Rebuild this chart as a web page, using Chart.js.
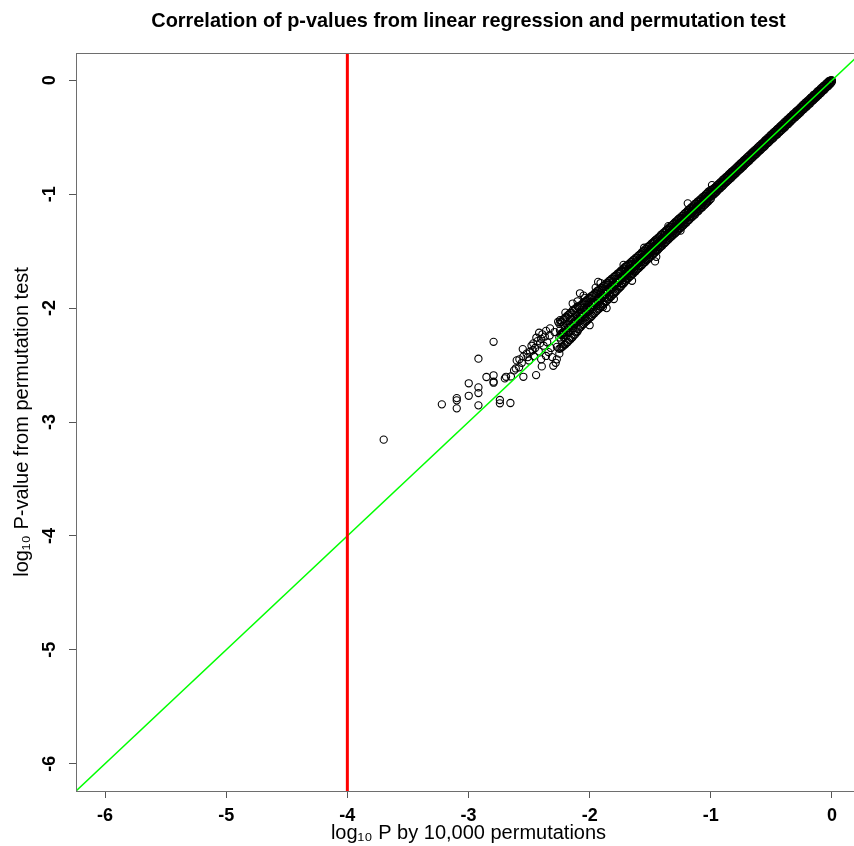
<!DOCTYPE html>
<html lang="en">

<head>
    <meta charset="UTF-8">
    <title>Correlation of p-values</title>
    <script src="https://cdn.jsdelivr.net/npm/chart.js"></script>
    <style>
        html, body { margin: 0; padding: 0; background: #fff; overflow: hidden; }
        #wrap { width: 936px; height: 846px; }
    </style>
</head>

<body>
    <!-- plot region runs past the window edge, the right side is cut like in the picture -->
    <div id="wrap"><canvas id="myChart" width="936" height="846"></canvas></div>

<script>
    // axis ranges and ticks (log10 scale on both axes)
    const xLimits = [-6.24, 0.24];
    const yLimits = [-6.24, 0.24];
    const xTicks = [-6, -5, -4, -3, -2, -1, 0];
    const yTicks = [-6, -5, -4, -3, -2, -1, 0];

    // y = x reference line and the -4 cutoff
    const diagonal = [[-7, -7], [1, 1]];
    const cutoff = [[-4, -7], [-4, 1]];

    // dense band of tests, [log10 P permutations, log10 P regression]
    const bandPoints = [
        [0,0],[0,-0.012],[-0.01,-0.001],[-0.01,-0.028],[-0.02,-0.004],[-0.02,-0.035],[-0.03,-0.012],[-0.03,-0.051],
        [-0.04,-0.022],[-0.04,-0.058],[-0.05,-0.031],[-0.05,-0.066],[-0.06,-0.047],[-0.06,-0.081],[-0.07,-0.049],[-0.07,-0.088],
        [-0.08,-0.064],[-0.08,-0.097],[-0.09,-0.068],[-0.09,-0.111],[-0.10,-0.082],[-0.10,-0.117],[-0.11,-0.093],[-0.11,-0.131],
        [-0.12,-0.098],[-0.12,-0.136],[-0.13,-0.114],[-0.13,-0.152],[-0.14,-0.121],[-0.14,-0.157],[-0.15,-0.127],[-0.15,-0.171],
        [-0.16,-0.143],[-0.16,-0.179],[-0.17,-0.149],[-0.17,-0.186],[-0.18,-0.158],[-0.18,-0.203],[-0.19,-0.172],[-0.19,-0.209],
        [-0.20,-0.178],[-0.20,-0.221],[-0.21,-0.191],[-0.21,-0.233],[-0.22,-0.197],[-0.22,-0.238],[-0.23,-0.213],[-0.23,-0.252],
        [-0.24,-0.216],[-0.24,-0.259],[-0.25,-0.231],[-0.25,-0.268],[-0.26,-0.237],[-0.26,-0.284],[-0.27,-0.252],[-0.27,-0.289],
        [-0.28,-0.259],[-0.28,-0.303],[-0.29,-0.268],[-0.29,-0.307],[-0.30,-0.277],[-0.30,-0.322],[-0.31,-0.292],[-0.31,-0.328],
        [-0.32,-0.296],[-0.32,-0.341],[-0.33,-0.311],[-0.33,-0.349],[-0.34,-0.318],[-0.34,-0.362],[-0.35,-0.327],[-0.35,-0.368],
        [-0.36,-0.341],[-0.36,-0.383],[-0.37,-0.346],[-0.37,-0.389],[-0.38,-0.362],[-0.38,-0.401],[-0.39,-0.366],[-0.39,-0.414],
        [-0.40,-0.381],[-0.40,-0.418],[-0.41,-0.387],[-0.41,-0.433],[-0.42,-0.399],[-0.42,-0.442],[-0.43,-0.406],[-0.43,-0.451],
        [-0.44,-0.421],[-0.44,-0.459],[-0.45,-0.426],[-0.45,-0.473],[-0.46,-0.438],[-0.46,-0.481],[-0.47,-0.451],[-0.47,-0.488],
        [-0.48,-0.455],[-0.48,-0.503],[-0.49,-0.469],[-0.49,-0.512],[-0.50,-0.476],[-0.50,-0.521],[-0.51,-0.487],[-0.51,-0.529],
        [-0.52,-0.502],[-0.52,-0.543],[-0.53,-0.505],[-0.53,-0.551],[-0.54,-0.521],[-0.54,-0.558],[-0.55,-0.526],[-0.55,-0.573],
        [-0.56,-0.538],[-0.56,-0.584],[-0.57,-0.551],[-0.57,-0.589],[-0.58,-0.556],[-0.58,-0.602],[-0.59,-0.571],[-0.59,-0.613],
        [-0.60,-0.575],[-0.60,-0.622],[-0.61,-0.588],[-0.61,-0.629],[-0.62,-0.597],[-0.62,-0.644],[-0.63,-0.611],[-0.63,-0.652],
        [-0.64,-0.615],[-0.64,-0.661],[-0.65,-0.629],[-0.65,-0.672],[-0.66,-0.636],[-0.66,-0.683],[-0.67,-0.648],[-0.67,-0.689],
        [-0.68,-0.656],[-0.68,-0.704],[-0.69,-0.671],[-0.69,-0.712],[-0.70,-0.674],[-0.70,-0.723],[-0.71,-0.689],[-0.71,-0.731],
        [-0.72,-0.697],[-0.72,-0.742],[-0.73,-0.706],[-0.73,-0.754],[-0.74,-0.719],[-0.74,-0.761],[-0.75,-0.726],[-0.75,-0.774],
        [-0.76,-0.737],[-0.76,-0.781],[-0.77,-0.748],[-0.77,-0.793],[-0.78,-0.755],[-0.78,-0.802],[-0.79,-0.768],[-0.79,-0.814],
        [-0.80,-0.777],[-0.80,-0.822],[-0.81,-0.786],[-0.81,-0.833],[-0.82,-0.798],[-0.82,-0.841],[-0.83,-0.805],[-0.83,-0.856],
        [-0.84,-0.818],[-0.84,-0.862],[-0.85,-0.824],[-0.85,-0.874],[-0.86,-0.839],[-0.86,-0.883],[-0.87,-0.846],[-0.87,-0.894],
        [-0.88,-0.854],[-0.88,-0.903],[-0.89,-0.868],[-0.89,-0.914],[-0.90,-0.873],[-0.90,-0.926],[-0.91,-0.887],[-0.91,-0.932],
        [-0.92,-0.894],[-0.92,-0.946],[-0.93,-0.905],[-0.93,-0.953],[-0.94,-0.916],[-0.94,-0.964],[-0.95,-0.922],[-0.95,-0.977],
        [-0.96,-0.937],[-0.96,-0.985],[-0.97,-0.944],[-0.97,-0.996],[-0.98,-0.953],[-0.98,-1.006],[-0.99,-0.967],[-0.99,-1.014],
        [-1.00,-0.962],[-1.00,-1.004],[-1.00,-1.041],[-1.01,-0.975],[-1.01,-1.018],[-1.01,-1.049],[-1.02,-0.978],[-1.02,-1.013],[-1.02,-1.063],
        [-1.03,-0.994],[-1.03,-1.036],[-1.03,-1.072],[-1.04,-0.999],[-1.04,-1.047],[-1.04,-1.081],[-1.05,-1.012],[-1.05,-1.041],[-1.05,-1.094],
        [-1.06,-1.021],[-1.06,-1.066],[-1.06,-1.099],[-1.07,-1.028],[-1.07,-1.062],[-1.07,-1.114],[-1.08,-1.044],[-1.08,-1.085],[-1.08,-1.121],
        [-1.09,-1.047],[-1.09,-1.093],[-1.09,-1.128],[-1.10,-1.063],[-1.10,-1.097],[-1.10,-1.146],[-1.11,-1.066],[-1.11,-1.114],[-1.11,-1.152],
        [-1.12,-1.081],[-1.12,-1.121],[-1.12,-1.161],[-1.13,-1.084],[-1.13,-1.127],[-1.13,-1.178],[-1.14,-1.098],[-1.14,-1.146],[-1.14,-1.181],
        [-1.15,-1.106],[-1.15,-1.143],[-1.15,-1.196],[-1.16,-1.117],[-1.16,-1.165],[-1.16,-1.203],[-1.17,-1.125],[-1.17,-1.174],[-1.17,-1.214],
        [-1.18,-1.139],[-1.18,-1.177],[-1.18,-1.226],[-1.19,-1.143],[-1.19,-1.198],[-1.19,-1.232],[-1.20,-1.158],[-1.20,-1.194],[-1.20,-1.249],
        [-1.21,-1.165],[-1.21,-1.216],[-1.21,-1.254],[-1.22,-1.173],[-1.22,-1.223],[-1.22,-1.266],[-1.23,-1.188],[-1.23,-1.226],[-1.23,-1.277],
        [-1.24,-1.192],[-1.24,-1.247],[-1.24,-1.284],[-1.25,-1.207],[-1.25,-1.244],[-1.25,-1.298],[-1.26,-1.213],[-1.26,-1.268],[-1.26,-1.304],
        [-1.27,-1.222],[-1.27,-1.264],[-1.27,-1.318],[-1.28,-1.236],[-1.28,-1.287],[-1.28,-1.327],[-1.29,-1.241],[-1.29,-1.285],[-1.29,-1.339],
        [-1.30,-1.252],[-1.30,-1.304],[-1.30,-1.347],[-1.31,-1.263],[-1.31,-1.309],[-1.31,-1.356],[-1.32,-1.271],[-1.32,-1.327],[-1.32,-1.368],
        [-1.33,-1.284],[-1.33,-1.326],[-1.33,-1.377],[-1.34,-1.289],[-1.34,-1.348],[-1.34,-1.386],[-1.35,-1.301],[-1.35,-1.344],[-1.35,-1.399],
        [-1.36,-1.312],[-1.36,-1.367],[-1.36,-1.405],[-1.37,-1.318],[-1.37,-1.372],[-1.37,-1.418],[-1.38,-1.334],[-1.38,-1.376],[-1.38,-1.428],
        [-1.39,-1.337],[-1.39,-1.396],[-1.39,-1.436],[-1.40,-1.352],[-1.40,-1.397],[-1.40,-1.451],[-1.41,-1.356],[-1.41,-1.418],[-1.41,-1.457],
        [-1.42,-1.371],[-1.42,-1.415],[-1.42,-1.468],[-1.43,-1.379],[-1.43,-1.434],[-1.43,-1.479],[-1.44,-1.388],[-1.44,-1.436],[-1.44,-1.492],
        [-1.45,-1.398],[-1.45,-1.457],[-1.45,-1.498],[-1.46,-1.406],[-1.46,-1.453],[-1.46,-1.512],[-1.47,-1.417],[-1.47,-1.476],[-1.47,-1.519],
        [-1.48,-1.428],[-1.48,-1.474],[-1.48,-1.531],[-1.49,-1.434],[-1.49,-1.497],[-1.49,-1.538],[-1.50,-1.447],[-1.50,-1.494],[-1.50,-1.552],
        [-1.51,-1.455],[-1.51,-1.516],[-1.51,-1.559],[-1.52,-1.463],[-1.52,-1.514],[-1.52,-1.571],[-1.53,-1.478],[-1.53,-1.537],[-1.53,-1.578],
        [-1.54,-1.482],[-1.54,-1.533],[-1.54,-1.593],[-1.55,-1.497],[-1.55,-1.558],[-1.55,-1.601],[-1.56,-1.503],[-1.56,-1.552],[-1.56,-1.612],
        [-1.57,-1.511],[-1.57,-1.576],[-1.57,-1.624],[-1.58,-1.526],[-1.58,-1.573],[-1.58,-1.631],[-1.59,-1.532],[-1.59,-1.597],[-1.59,-1.644],
        [-1.60,-1.541],[-1.60,-1.594],[-1.60,-1.653],[-1.61,-1.554],[-1.61,-1.617],[-1.61,-1.662],[-1.62,-1.559],[-1.62,-1.613],[-1.62,-1.676],
        [-1.63,-1.573],[-1.63,-1.638],[-1.63,-1.681],[-1.64,-1.578],[-1.64,-1.634],[-1.64,-1.696],[-1.65,-1.592],[-1.65,-1.657],[-1.65,-1.703],
        [-1.66,-1.597],[-1.66,-1.652],[-1.66,-1.716],[-1.67,-1.611],[-1.67,-1.678],[-1.67,-1.722],[-1.68,-1.617],[-1.68,-1.673],[-1.68,-1.737],
        [-1.69,-1.629],[-1.69,-1.696],[-1.69,-1.744],
        [-1.70,-1.632],[-1.70,-1.694],[-1.70,-1.758],[-1.71,-1.641],[-1.71,-1.718],[-1.71,-1.771],[-1.72,-1.652],[-1.72,-1.713],[-1.72,-1.784],
        [-1.73,-1.668],[-1.73,-1.739],[-1.73,-1.791],[-1.74,-1.669],[-1.74,-1.733],[-1.74,-1.808],[-1.75,-1.683],[-1.75,-1.758],[-1.75,-1.817],
        [-1.76,-1.694],[-1.76,-1.752],[-1.76,-1.829],[-1.77,-1.697],[-1.77,-1.779],[-1.77,-1.838],[-1.78,-1.712],[-1.78,-1.774],[-1.78,-1.852],
        [-1.79,-1.718],[-1.79,-1.798],[-1.79,-1.861],[-1.80,-1.727],[-1.80,-1.793],[-1.80,-1.874],[-1.81,-1.739],[-1.81,-1.817],[-1.81,-1.879],
        [-1.82,-1.744],[-1.82,-1.813],[-1.82,-1.896],[-1.83,-1.758],[-1.83,-1.838],[-1.83,-1.902],[-1.84,-1.762],[-1.84,-1.832],[-1.84,-1.918],
        [-1.85,-1.777],[-1.85,-1.856],[-1.85,-1.923],[-1.86,-1.781],[-1.86,-1.853],[-1.86,-1.941],[-1.87,-1.792],[-1.87,-1.877],[-1.87,-1.946],
        [-1.88,-1.803],[-1.88,-1.874],[-1.88,-1.958],[-1.89,-1.808],[-1.89,-1.897],[-1.89,-1.967],[-1.90,-1.823],[-1.90,-1.891],[-1.90,-1.982],
        [-1.91,-1.826],[-1.91,-1.918],[-1.91,-1.988],[-1.92,-1.838],[-1.92,-1.912],[-1.92,-2.003],[-1.93,-1.847],[-1.93,-1.936],[-1.93,-2.011],
        [-1.94,-1.852],[-1.94,-1.933],[-1.94,-2.024],[-1.95,-1.868],[-1.95,-1.957],[-1.95,-2.031],[-1.96,-1.871],[-1.96,-1.952],[-1.96,-2.046],
        [-1.97,-1.884],[-1.97,-1.976],[-1.97,-2.052],[-1.98,-1.892],[-1.98,-1.972],[-1.98,-2.067],[-1.99,-1.897],[-1.99,-1.994],[-1.99,-2.078],
        [-2.00,-1.911],[-2.00,-1.991],[-2.00,-2.086],[-2.01,-1.916],[-2.01,-2.014],[-2.01,-2.097],[-2.02,-1.927],[-2.02,-2.013],[-2.02,-2.109],
        [-2.03,-1.938],[-2.03,-2.037],[-2.03,-2.116],[-2.04,-1.944],[-2.04,-2.032],[-2.04,-2.128],[-2.05,-1.956],[-2.05,-2.056],[-2.05,-2.141],
        [-2.06,-1.961],[-2.06,-2.054],[-2.06,-2.147],[-2.07,-1.974],[-2.07,-2.076],[-2.07,-2.162],[-2.08,-1.979],[-2.08,-2.071],[-2.08,-2.171],
        [-2.09,-1.992],[-2.09,-2.097],[-2.09,-2.183],[-2.10,-1.986],[-2.10,-2.091],[-2.10,-2.206],[-2.11,-2.003],[-2.11,-2.118],[-2.11,-2.213],
        [-2.12,-2.004],[-2.12,-2.112],[-2.12,-2.231],[-2.13,-2.022],[-2.13,-2.139],[-2.13,-2.236],[-2.14,-2.021],[-2.14,-2.133],[-2.14,-2.254],
        [-2.15,-2.041],[-2.15,-2.158],[-2.15,-2.262],[-2.16,-2.043],[-2.16,-2.151],[-2.16,-2.277],[-2.17,-2.056],[-2.17,-2.178],[-2.17,-2.281],
        [-2.18,-2.063],[-2.18,-2.172],[-2.18,-2.298],[-2.19,-2.078],[-2.19,-2.198],[-2.19,-2.304],[-2.20,-2.082],[-2.20,-2.191],[-2.20,-2.318],
        [-2.21,-2.096],[-2.21,-2.217],[-2.21,-2.322],[-2.22,-2.101],[-2.22,-2.214],[-2.22,-2.336],[-2.23,-2.117],[-2.23,-2.236],[-2.23,-2.341],
        [-2.24,-2.122],[-2.24,-2.229],[-2.24,-2.352],[-2.25,-2.138],[-2.25,-2.258],[-2.25,-2.357]
    ];

    // tests sitting close to the middle of the band
    const bandCore = [
        [-0.005,-0.001],[-0.015,-0.021],[-0.025,-0.017],[-0.035,-0.046],[-0.045,-0.033],[-0.055,-0.057],[-0.065,-0.055],[-0.075,-0.084],[-0.085,-0.084],[-0.095,-0.099],
        [-0.105,-0.101],[-0.115,-0.121],[-0.125,-0.117],[-0.135,-0.146],[-0.145,-0.133],[-0.155,-0.157],[-0.165,-0.155],[-0.175,-0.184],[-0.185,-0.184],[-0.195,-0.199],
        [-0.205,-0.201],[-0.215,-0.221],[-0.225,-0.217],[-0.235,-0.246],[-0.245,-0.233],[-0.255,-0.257],[-0.265,-0.255],[-0.275,-0.284],[-0.285,-0.284],[-0.295,-0.299],
        [-0.305,-0.301],[-0.315,-0.321],[-0.325,-0.317],[-0.335,-0.346],[-0.345,-0.333],[-0.355,-0.357],[-0.365,-0.355],[-0.375,-0.384],[-0.385,-0.384],[-0.395,-0.399],
        [-0.405,-0.401],[-0.415,-0.421],[-0.425,-0.417],[-0.435,-0.446],[-0.445,-0.433],[-0.455,-0.457],[-0.465,-0.455],[-0.475,-0.484],[-0.485,-0.484],[-0.495,-0.499],
        [-0.505,-0.501],[-0.515,-0.521],[-0.525,-0.517],[-0.535,-0.546],[-0.545,-0.533],[-0.555,-0.557],[-0.565,-0.555],[-0.575,-0.584],[-0.585,-0.584],[-0.595,-0.599],
        [-0.605,-0.601],[-0.615,-0.621],[-0.625,-0.617],[-0.635,-0.646],[-0.645,-0.633],[-0.655,-0.657],[-0.665,-0.655],[-0.675,-0.684],[-0.685,-0.684],[-0.695,-0.699],
        [-0.705,-0.701],[-0.715,-0.721],[-0.725,-0.717],[-0.735,-0.746],[-0.745,-0.733],[-0.755,-0.757],[-0.765,-0.755],[-0.775,-0.784],[-0.785,-0.784],[-0.795,-0.799],
        [-0.805,-0.801],[-0.815,-0.821],[-0.825,-0.817],[-0.835,-0.846],[-0.845,-0.833],[-0.855,-0.857],[-0.865,-0.855],[-0.875,-0.884],[-0.885,-0.884],[-0.895,-0.899],
        [-0.905,-0.901],[-0.915,-0.921],[-0.925,-0.917],[-0.935,-0.946],[-0.945,-0.933],[-0.955,-0.957],[-0.965,-0.955],[-0.975,-0.984],[-0.985,-0.984],[-0.995,-0.999],
        [-1.005,-0.985],[-1.015,-1.030],[-1.025,-1.020],[-1.035,-1.063],[-1.045,-1.015],[-1.055,-1.059],[-1.065,-1.053],[-1.075,-1.097],[-1.085,-1.060],[-1.095,-1.105],
        [-1.105,-1.085],[-1.115,-1.130],[-1.125,-1.120],[-1.135,-1.163],[-1.145,-1.115],[-1.155,-1.159],[-1.165,-1.153],[-1.175,-1.197],[-1.185,-1.160],[-1.195,-1.205],
        [-1.205,-1.185],[-1.215,-1.230],[-1.225,-1.220],[-1.235,-1.263],[-1.245,-1.215],[-1.255,-1.259],[-1.265,-1.253],[-1.275,-1.297],[-1.285,-1.260],[-1.295,-1.305],
        [-1.305,-1.285],[-1.315,-1.330],[-1.325,-1.320],[-1.335,-1.363],[-1.345,-1.315],[-1.355,-1.359],[-1.365,-1.353],[-1.375,-1.397],[-1.385,-1.360],[-1.395,-1.405],
        [-1.405,-1.385],[-1.415,-1.430],[-1.425,-1.420],[-1.435,-1.463],[-1.445,-1.415],[-1.455,-1.459],[-1.465,-1.453],[-1.475,-1.497],[-1.485,-1.460],[-1.495,-1.505],
        [-1.505,-1.485],[-1.515,-1.530],[-1.525,-1.520],[-1.535,-1.563],[-1.545,-1.515],[-1.555,-1.559],[-1.565,-1.553],[-1.575,-1.597],[-1.585,-1.560],[-1.595,-1.605],
        [-1.605,-1.585],[-1.615,-1.630],[-1.625,-1.620],[-1.635,-1.663],[-1.645,-1.615],[-1.655,-1.659],[-1.665,-1.653],[-1.675,-1.697],[-1.685,-1.660],[-1.695,-1.705],
        [-1.705,-1.670],[-1.715,-1.735],[-1.725,-1.715],[-1.735,-1.780],[-1.745,-1.695],[-1.755,-1.761],[-1.765,-1.745],[-1.775,-1.810],[-1.785,-1.745],[-1.795,-1.810],
        [-1.805,-1.770],[-1.815,-1.835],[-1.825,-1.815],[-1.835,-1.880],[-1.845,-1.795],[-1.855,-1.861],[-1.865,-1.845],[-1.875,-1.910],[-1.885,-1.845],[-1.895,-1.910],
        [-1.905,-1.870],[-1.915,-1.935],[-1.925,-1.915],[-1.935,-1.980],[-1.945,-1.895],[-1.955,-1.961],[-1.965,-1.945],[-1.975,-2.010],[-1.985,-1.945],[-1.995,-2.010],
        [-2.005,-1.970],[-2.015,-2.035],[-2.025,-2.015],[-2.035,-2.080],[-2.045,-1.995],[-2.055,-2.061],[-2.065,-2.045],[-2.075,-2.110],[-2.085,-2.045],[-2.095,-2.110],
        [-2.105,-2.070],[-2.115,-2.135],[-2.125,-2.115],[-2.135,-2.180],[-2.145,-2.095],[-2.155,-2.161],[-2.165,-2.145],[-2.175,-2.210],[-2.185,-2.145],[-2.195,-2.210],
        [-2.205,-2.170],[-2.215,-2.235],[-2.225,-2.215],[-2.235,-2.280],[-2.245,-2.195]
    ];

    // scattered tests at the edges of the band and in the low tail
    const scatterPoints = [
        [-3.70,-3.155],[-3.22,-2.845],[-3.097,-2.79],[-3.097,-2.81],[-3.097,-2.88],[-2.998,-2.66],[-2.998,-2.77],
        [-2.918,-2.444],[-2.918,-2.696],[-2.918,-2.746],[-2.918,-2.854],[-2.852,-2.605],[-2.793,-2.296],[-2.793,-2.59],
        [-2.793,-2.646],[-2.793,-2.655],[-2.741,-2.807],[-2.741,-2.836],[-2.70,-2.617],[-2.69,-2.603],[-2.654,-2.833],
        [-2.624,-2.547],[-2.602,-2.459],[-2.582,-2.52],[-2.552,-2.36],[-2.547,-2.603],[-2.547,-2.426],[-2.492,-2.383],
        [-2.465,-2.31],[-2.442,-2.588],[-2.417,-2.216],[-2.40,-2.45],[-2.395,-2.512],[-2.34,-2.386],[-2.327,-2.178],
        [-2.30,-2.506],[-2.271,-2.45],[-2.244,-2.105],[-2.217,-2.252],
        [-2.52,-2.40],[-2.50,-2.46],[-2.48,-2.33],[-2.46,-2.42],[-2.45,-2.35],[-2.43,-2.29],[-2.42,-2.38],[-2.40,-2.27],
        [-2.38,-2.33],[-2.37,-2.25],[-2.36,-2.42],[-2.35,-2.30],[-2.33,-2.24],[-2.32,-2.35],[-2.31,-2.43],[-2.29,-2.21],
        [-2.28,-2.48],[-2.27,-2.34],[-2.26,-2.12],[-2.25,-2.40],[-2.36,-2.20],[-2.39,-2.23],[-2.41,-2.31],[-2.44,-2.26],
        [-2.47,-2.37],[-2.51,-2.43],[-2.56,-2.48],[-2.58,-2.45],[-2.61,-2.53],[-2.65,-2.60],
        [-2.14,-1.96],[-2.10,-1.94],[-2.08,-1.87],[-2.04,-1.91],[-2.05,-1.89],[-1.95,-1.82],[-1.93,-1.77],[-1.91,-1.78],
        [-1.89,-1.99],[-1.86,-2.00],[-1.80,-1.92],[-1.72,-1.62],[-1.65,-1.76],[-1.55,-1.47],[-1.46,-1.59],[-1.45,-1.55],
        [-1.35,-1.28],[-1.25,-1.32],[-1.19,-1.08],[-0.99,-0.92],[-2.00,-2.15],[-2.20,-2.04]
    ];

    const ctx = document.getElementById('myChart');

    // box around the plot region, like R's box()
    const boxPlugin = {
        id: 'box',
        afterDraw(chart) {
            const a = chart.chartArea;
            const c = chart.ctx;
            c.save();
            c.strokeStyle = '#6e6e6e';
            c.lineWidth = 1;
            c.strokeRect(a.left + 0.5, a.top + 0.5, a.right - a.left, a.bottom - a.top);
            c.restore();
        }
    };

    const toXY = p => ({ x: p[0], y: p[1] });
    const fontFam = "'Liberation Sans', Arial, Helvetica, sans-serif";

    new Chart(ctx, {
        type: 'scatter',
        data: {
            datasets: [
                {
                    label: 'cutoff',
                    data: cutoff.map(toXY),
                    showLine: true,
                    borderColor: '#ff0000',
                    borderWidth: 3,
                    pointRadius: 0,
                    order: 1
                },
                {
                    label: 'y = x',
                    data: diagonal.map(toXY),
                    showLine: true,
                    borderColor: '#00ff00',
                    borderWidth: 1.5,
                    pointRadius: 0,
                    order: 2
                },
                {
                    label: 'tests',
                    data: bandPoints.concat(bandCore, scatterPoints).map(toXY),
                    pointRadius: 3.6,
                    pointBorderWidth: 1.1,
                    borderColor: '#000',
                    backgroundColor: 'rgba(0,0,0,0)',
                    order: 3
                }
            ]
        },
        options: {
            responsive: false,
            animation: false,
            devicePixelRatio: 1,
            layout: { padding: { top: 0, right: 75, bottom: 0, left: 0 } },
            plugins: {
                legend: { display: false },
                tooltip: { enabled: false }
            },
            scales: {
                // top axis only carries the main title, so it is centred over the plot like in R
                top: {
                    type: 'linear',
                    position: 'top',
                    min: xLimits[0],
                    max: xLimits[1],
                    afterFit: s => { s.height = 53; },
                    grid: { display: false },
                    border: { display: false },
                    ticks: { display: false },
                    title: {
                        display: true,
                        text: 'Correlation of p-values from linear regression and permutation test',
                        color: '#000',
                        font: { family: fontFam, size: 19.9, weight: 'bold' },
                        padding: 10
                    }
                },
                x: {
                    type: 'linear',
                    min: xLimits[0],
                    max: xLimits[1],
                    afterBuildTicks: s => { s.ticks = xTicks.map(v => ({ value: v })); },
                    afterFit: s => { s.height = 55; },
                    grid: { drawOnChartArea: false, drawTicks: true, tickLength: 7, color: '#555' },
                    border: { display: true, color: '#6e6e6e' },
                    ticks: { color: '#000', padding: 7.5, maxRotation: 0, font: { family: fontFam, size: 18, weight: 'bold' } },
                    title: {
                        display: true,
                        text: 'log₁₀ P by 10,000 permutations',
                        color: '#000',
                        font: { family: fontFam, size: 20 },
                        padding: 1
                    }
                },
                y: {
                    type: 'linear',
                    min: yLimits[0],
                    max: yLimits[1],
                    afterBuildTicks: s => { s.ticks = yTicks.map(v => ({ value: v })); },
                    afterFit: s => { s.width = 76; },
                    grid: { drawOnChartArea: false, drawTicks: true, tickLength: 7, color: '#555' },
                    border: { display: true, color: '#6e6e6e' },
                    ticks: {
                        color: '#000', padding: 11, minRotation: 90, maxRotation: 90, crossAlign: 'center',
                        font: { family: fontFam, size: 18, weight: 'bold' }
                    },
                    title: {
                        display: true,
                        text: 'log₁₀ P-value from permutation test',
                        color: '#000',
                        font: { family: fontFam, size: 20 },
                        padding: 10
                    }
                }
            }
        },
        plugins: [boxPlugin]
    });
</script>
</body>

</html>
